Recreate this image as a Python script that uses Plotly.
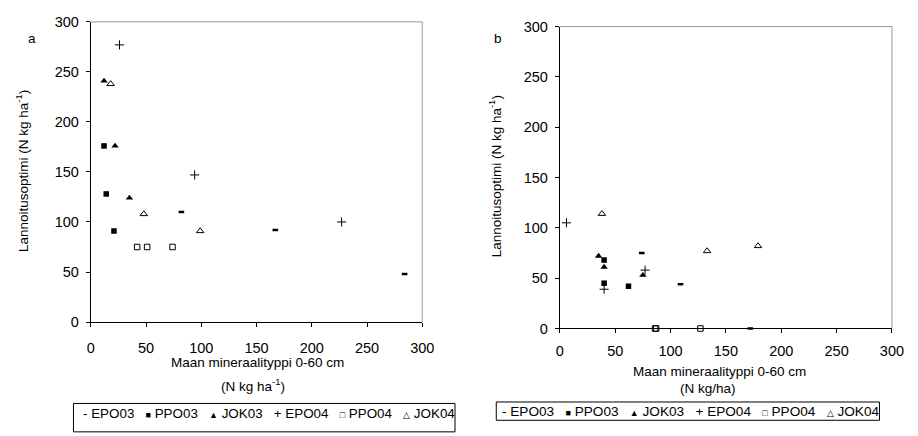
import plotly.graph_objects as go

# ---- data (panel a) ----
series_names = ["EPO03", "PPO03", "JOK03", "EPO04", "PPO04", "JOK04"]
a_EPO03_x = [82, 167, 284];  a_EPO03_y = [110, 92, 48]
a_PPO03_x = [12, 14, 21];    a_PPO03_y = [176, 128, 91]
a_JOK03_x = [12, 22, 35];    a_JOK03_y = [241, 176, 124]
a_EPO04_x = [26, 94, 227];   a_EPO04_y = [277, 147, 100]
a_PPO04_x = [42, 51, 74];    a_PPO04_y = [75, 75, 75]
a_JOK04_x = [18, 48, 99];    a_JOK04_y = [238, 108, 91]

# ---- data (panel b) ----
b_EPO03_x = [74, 109, 172];  b_EPO03_y = [75, 44, 0]
b_PPO03_x = [40, 40, 62];    b_PPO03_y = [68, 45, 42]
b_JOK03_x = [35, 40, 75];    b_JOK03_y = [72, 61, 53]
b_EPO04_x = [6, 40, 77];     b_EPO04_y = [105, 39, 58]
b_PPO04_x = [86, 87, 127];   b_PPO04_y = [0, 0, 0]
b_JOK04_x = [38, 133, 179];  b_JOK04_y = [114, 77, 82]

tick_vals = [0, 50, 100, 150, 200, 250, 300]

W, H = 918, 436
FONT = "Arial, Liberation Sans, sans-serif"

styles = {
    "EPO03": dict(symbol="line-ew", size=4, line=dict(width=2.5, color="black"), color="black"),
    "PPO03": dict(symbol="square", size=5.5, color="black", line=dict(width=0)),
    "JOK03": dict(symbol="triangle-up", size=6.5, color="black", line=dict(width=0)),
    "EPO04": dict(symbol="cross-thin", size=6.5, line=dict(width=1, color="black"), color="black"),
    "PPO04": dict(symbol="square-open", size=5.5, line=dict(width=1, color="black"), color="black"),
    "JOK04": dict(symbol="triangle-up-open", size=6.5, line=dict(width=1, color="black"), color="black"),
}

panel_a = {
    "EPO03": (a_EPO03_x, a_EPO03_y), "PPO03": (a_PPO03_x, a_PPO03_y),
    "JOK03": (a_JOK03_x, a_JOK03_y), "EPO04": (a_EPO04_x, a_EPO04_y),
    "PPO04": (a_PPO04_x, a_PPO04_y), "JOK04": (a_JOK04_x, a_JOK04_y),
}
panel_b = {
    "EPO03": (b_EPO03_x, b_EPO03_y), "PPO03": (b_PPO03_x, b_PPO03_y),
    "JOK03": (b_JOK03_x, b_JOK03_y), "EPO04": (b_EPO04_x, b_EPO04_y),
    "PPO04": (b_PPO04_x, b_PPO04_y), "JOK04": (b_JOK04_x, b_JOK04_y),
}

fig = go.Figure()
for name in series_names:
    x, y = panel_a[name]
    fig.add_trace(go.Scatter(x=x, y=y, mode="markers", name=name, marker=styles[name],
                             xaxis="x", yaxis="y", cliponaxis=False, showlegend=False))
for name in series_names:
    x, y = panel_b[name]
    fig.add_trace(go.Scatter(x=x, y=y, mode="markers", name=name, marker=styles[name],
                             xaxis="x2", yaxis="y2", cliponaxis=False, showlegend=False))

def px(v):
    return v / W

def py(v):
    return 1 - v / H

axis_common = dict(range=[0, 300], tickvals=tick_vals, showgrid=False, zeroline=False,
                   showline=True, linecolor="black", linewidth=1, ticks="outside",
                   ticklen=4, tickcolor="black", tickwidth=1,
                   tickfont=dict(family=FONT, size=14.5, color="black"), fixedrange=True)

fig.update_layout(
    width=W, height=H, margin=dict(l=0, r=0, t=0, b=0),
    paper_bgcolor="white", plot_bgcolor="white", showlegend=False,
    font=dict(family=FONT, color="black"),
    xaxis=dict(domain=[px(88.3), px(425.7)], anchor="y", ticklabelstandoff=9, **axis_common),
    yaxis=dict(domain=[py(326), py(14.4)], anchor="x", ticklabelstandoff=4, **axis_common),
    xaxis2=dict(domain=[px(565.7), px(903.7)], anchor="y2", ticklabelstandoff=5, **axis_common),
    yaxis2=dict(domain=[py(332.7), py(19.3)], anchor="x2", ticklabelstandoff=4, **axis_common),
)

# gray frame on top and right of plot areas
shapes = []
for xr, yr in (("x domain", "y domain"), ("x2 domain", "y2 domain")):
    shapes.append(dict(type="line", xref=xr, yref=yr, x0=0, x1=1, y0=1, y1=1,
                       line=dict(color="#9a9a9a", width=1)))
    shapes.append(dict(type="line", xref=xr, yref=yr, x0=1, x1=1, y0=0, y1=1,
                       line=dict(color="#9a9a9a", width=1)))
# legend boxes
shapes.append(dict(type="rect", xref="paper", yref="paper", x0=px(70.7), x1=px(459),
                   y0=py(440), y1=py(410.5), line=dict(color="black", width=1), fillcolor="white",
                   layer="below"))
shapes.append(dict(type="rect", xref="paper", yref="paper", x0=px(501), x1=px(891),
                   y0=py(428), y1=py(409), line=dict(color="black", width=1), fillcolor="white",
                   layer="below"))
fig.update_layout(shapes=shapes)

sym_glyph = {"EPO03": "-", "PPO03": "■", "JOK03": "▲", "EPO04": "+", "PPO04": "□", "JOK04": "△"}
NB = "\u00a0"
parts = []
for name in series_names:
    g = sym_glyph[name]
    if g in ("-", "+"):
        glyph = g
    else:
        glyph = '<span style="font-size:9px">' + g + '</span>'
    parts.append(glyph + NB + name)
legend_text = (NB * 3).join(parts)

ann = []
def add_text(text, x, y, size=13.5, angle=0, xanchor="center"):
    ann.append(dict(text=text, x=px(x), y=py(y), xref="paper", yref="paper",
                    xanchor=xanchor, yanchor="middle", showarrow=False, textangle=angle,
                    font=dict(family=FONT, size=size, color="black")))

add_text("a", 29, 32)
add_text("b", 503, 32)
add_text("Lannoitusoptimi (N kg ha<sup>-1</sup>)", 18.5, 169, angle=-90)
add_text("Lannoitusoptimi (N kg ha<sup>-1</sup>)", 499.5, 175, angle=-90)
add_text("Maan mineraalityppi 0-60 cm", 258, 368.5)
add_text("(N kg ha<sup>-1</sup>)", 253, 391)
add_text("Maan mineraalityppi 0-60 cm", 728.5, 377)
add_text("(N kg/ha)", 716, 394.5)
add_text(legend_text, 78, 420.5, size=13.4, xanchor="left")
add_text(legend_text, 505, 418.5, size=13.6, xanchor="left")
fig.update_layout(annotations=ann)

fig.write_html("out.html")
